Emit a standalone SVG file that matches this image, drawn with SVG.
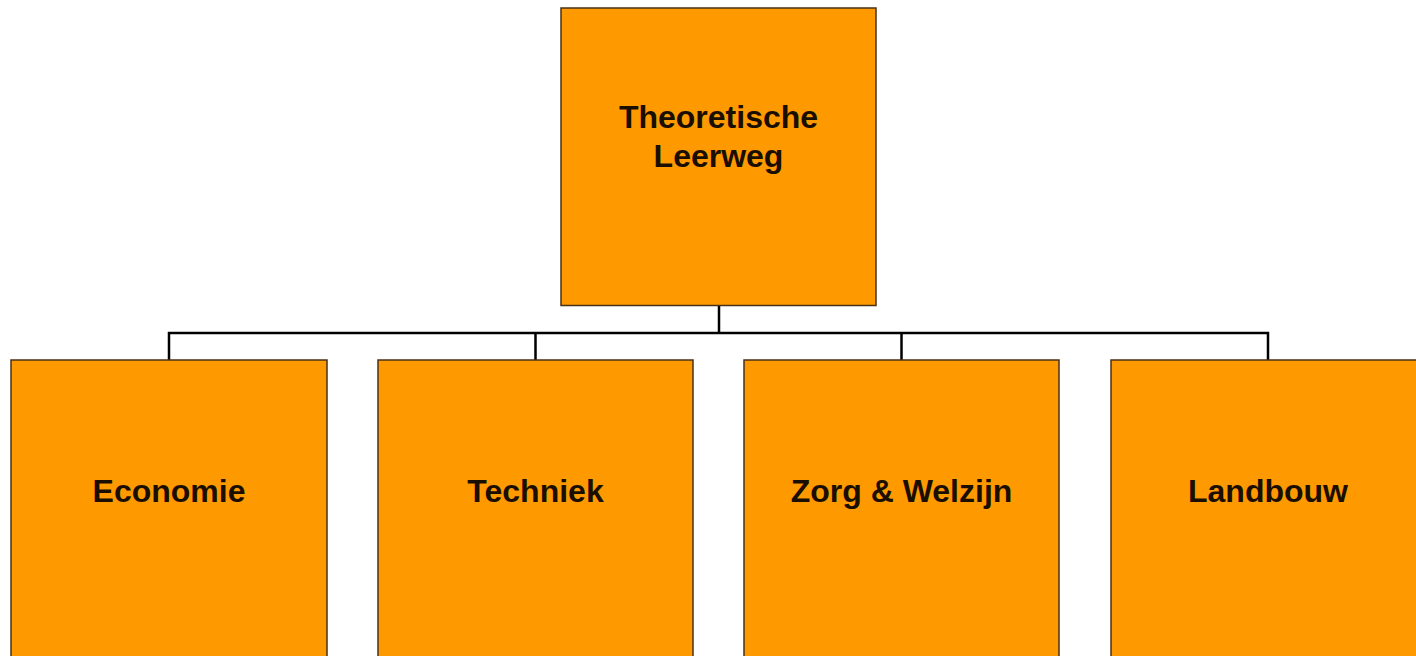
<svg xmlns="http://www.w3.org/2000/svg" width="1416" height="656" viewBox="0 0 1416 656">
<style>
.box{fill:#FF9900;stroke:#4a3218;stroke-width:1.5}
.lbl{font-family:"Liberation Sans",Arial,sans-serif;font-weight:bold;font-size:32px;fill:#1a0e00;text-anchor:middle}
.conn{fill:none;stroke:#000;stroke-width:2.5}
</style>
<rect width="1416" height="656" fill="#fff"/>
<g id="connectors">
<path class="conn" d="M719 306V333"/>
<path class="conn" d="M169 360V333H1268V360"/>
<path class="conn" d="M535.5 333V360"/>
<path class="conn" d="M901.5 333V360"/>
</g>
<g id="theoretische-leerweg">
<rect class="box" x="561" y="8" width="315" height="297.5"/>
<text class="lbl" x="718.5" y="128">Theoretische</text>
<text class="lbl" x="718.5" y="167">Leerweg</text>
</g>
<g id="economie">
<rect class="box" x="11" y="360" width="316" height="310"/>
<text class="lbl" x="169" y="502">Economie</text>
</g>
<g id="techniek">
<rect class="box" x="378" y="360" width="315" height="310"/>
<text class="lbl" x="535.5" y="502">Techniek</text>
</g>
<g id="zorg-welzijn">
<rect class="box" x="744" y="360" width="315" height="310"/>
<text class="lbl" x="901.5" y="502">Zorg &amp; Welzijn</text>
</g>
<g id="landbouw">
<rect class="box" x="1111" y="360" width="316" height="310"/>
<text class="lbl" x="1268" y="502">Landbouw</text>
</g>
</svg>
